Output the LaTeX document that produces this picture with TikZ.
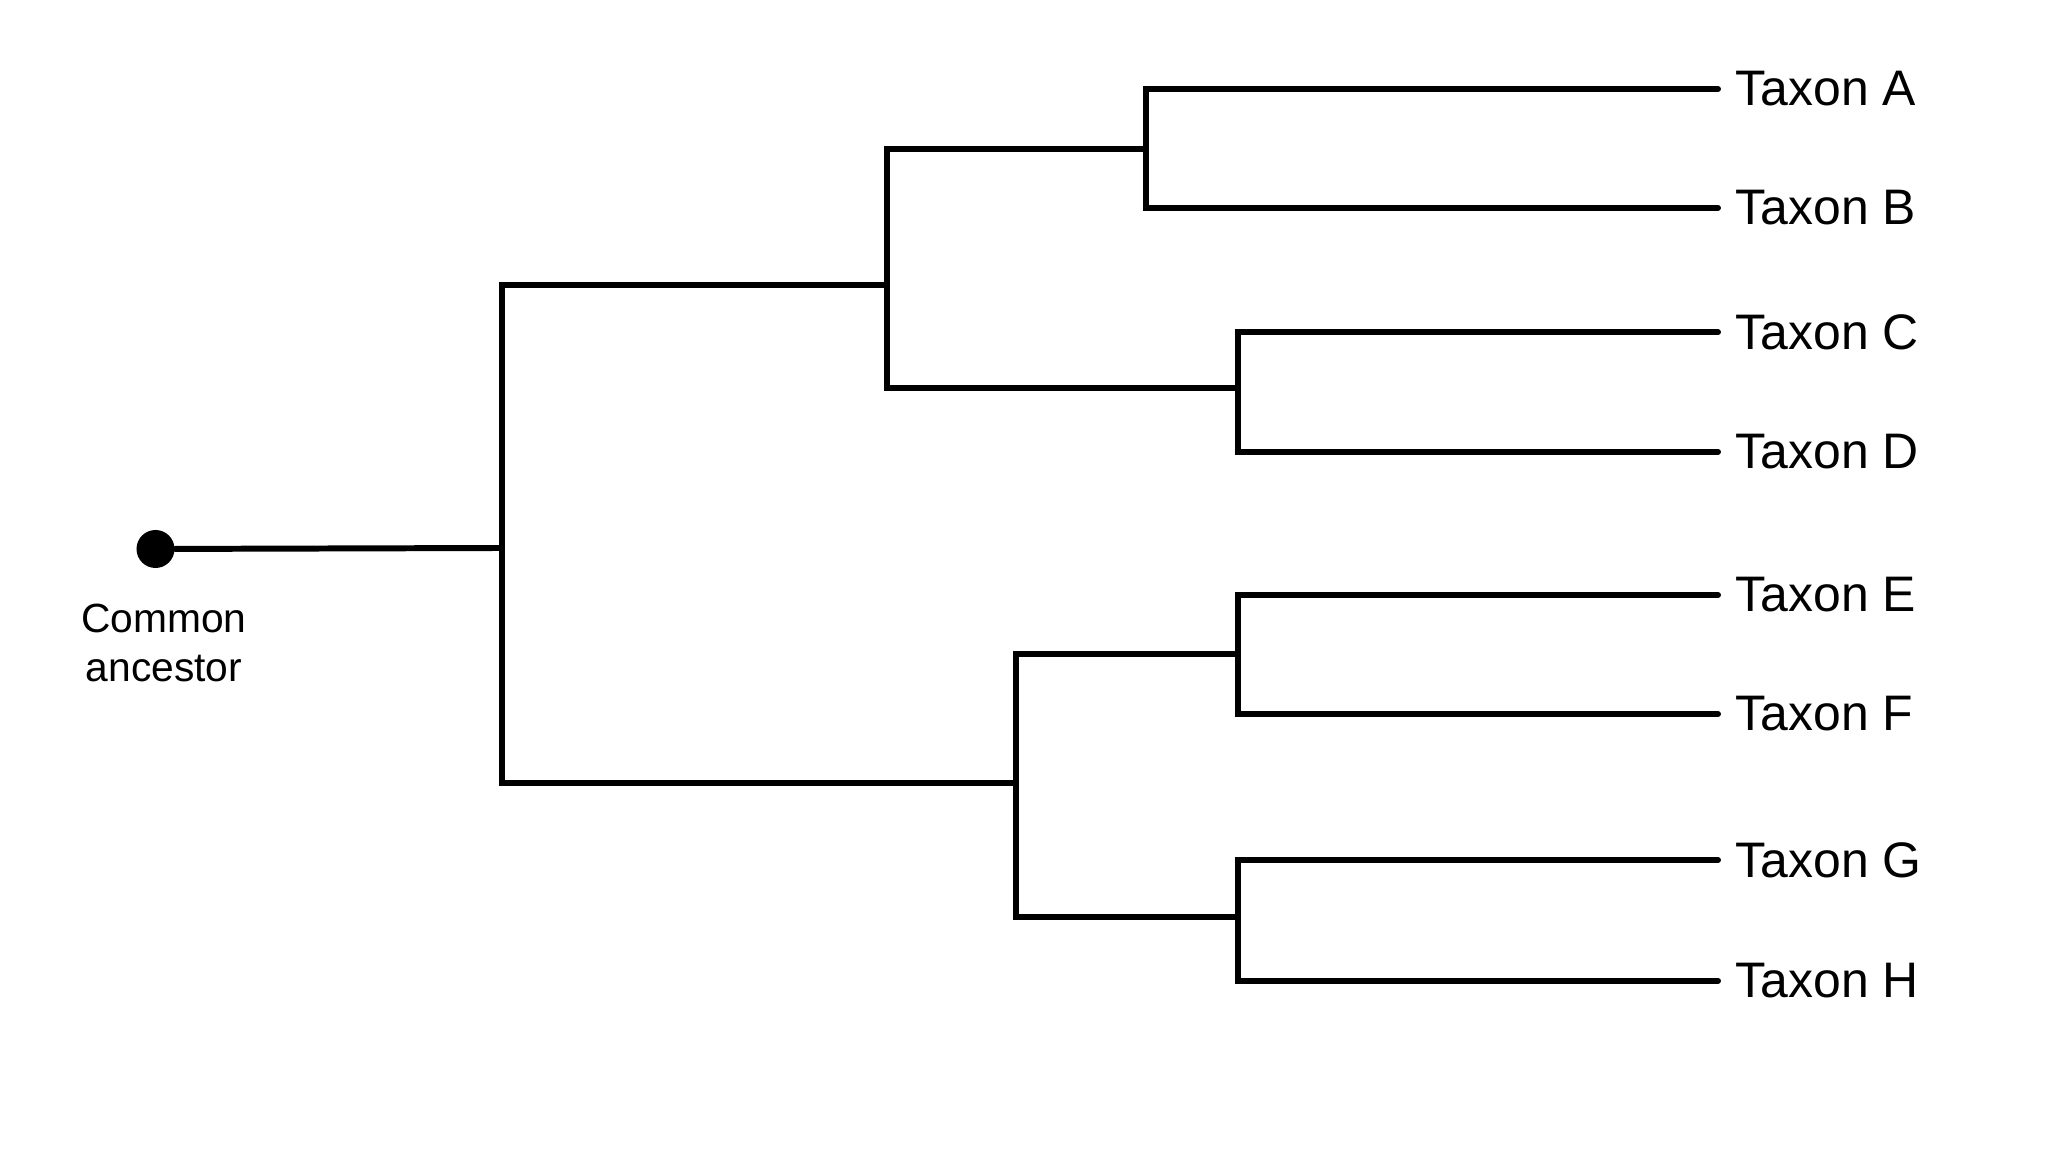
\documentclass[tikz,border=0pt]{standalone}
\usepackage{fontspec}
\setmainfont{Liberation Sans}
\usepackage{tikz}
\usetikzlibrary{positioning}

\begin{document}
\begin{tikzpicture}
\tikzstyle{branch} = [line width=1.7pt, line cap=round, line join=miter]
\tikzstyle{taxon} = [inner sep=0pt, font=\fontsize{14.2}{16}\selectfont]
\tikzstyle{ancestor} = [inner sep=0pt, align=center, font=\fontsize{11.6}{13.9}\selectfont]

\useasboundingbox[fill=white] (0,0) rectangle (20.48,11.52);

% internal nodes
\coordinate (root) at (5.02,6.04);
\coordinate (nABCD) at (8.87,8.665);
\coordinate (nEFGH) at (10.16,3.685);
\coordinate (nAB) at (11.46,10.027);
\coordinate (nCD) at (12.38,7.637);
\coordinate (nEF) at (12.38,4.977);
\coordinate (nGH) at (12.38,2.347);

% leaves
\coordinate (tA) at (17.18,10.63);
\coordinate (tB) at (17.18,9.442);
\coordinate (tC) at (17.18,8.197);
\coordinate (tD) at (17.18,7.003);
\coordinate (tE) at (17.18,5.57);
\coordinate (tF) at (17.18,4.38);
\coordinate (tG) at (17.18,2.92);
\coordinate (tH) at (17.18,1.713);

\node (lA) [taxon, right=0.17cm of tA] {Taxon A};
\node (lB) [taxon, right=0.17cm of tB] {Taxon B};
\node (lC) [taxon, right=0.17cm of tC] {Taxon C};
\node (lD) [taxon, right=0.17cm of tD] {Taxon D};
\node (lE) [taxon, right=0.17cm of tE] {Taxon E};
\node (lF) [taxon, right=0.17cm of tF] {Taxon F};
\node (lG) [taxon, right=0.17cm of tG] {Taxon G};
\node (lH) [taxon, right=0.17cm of tH] {Taxon H};

% common ancestor
\node (anc) [circle, fill=black, inner sep=0pt, minimum size=0.38cm] at (1.555,6.03) {};
\node (ancl) [ancestor, anchor=north] at (1.64,5.49) {Common\\ancestor};

\draw [branch] (anc) -- (root);
\draw [branch] (root) |- (nABCD);
\draw [branch] (root) |- (nEFGH);
\draw [branch] (nABCD) |- (nAB);
\draw [branch] (nABCD) |- (nCD);
\draw [branch] (nEFGH) |- (nEF);
\draw [branch] (nEFGH) |- (nGH);
\draw [branch] (nAB) |- (tA);
\draw [branch] (nAB) |- (tB);
\draw [branch] (nCD) |- (tC);
\draw [branch] (nCD) |- (tD);
\draw [branch] (nEF) |- (tE);
\draw [branch] (nEF) |- (tF);
\draw [branch] (nGH) |- (tG);
\draw [branch] (nGH) |- (tH);

\end{tikzpicture}
\end{document}
